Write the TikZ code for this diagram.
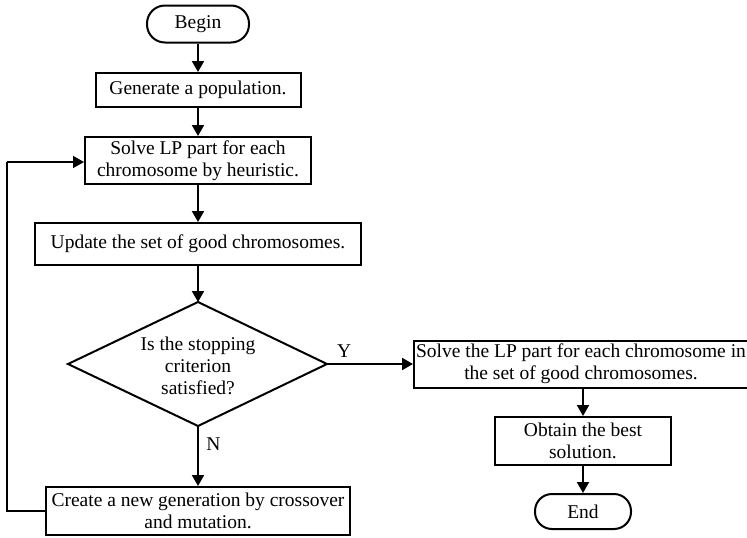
\documentclass[tikz,border=0pt]{standalone}
\usepackage{fontspec}
\setmainfont{Liberation Serif}
\usetikzlibrary{arrows.meta,shapes.geometric}
\begin{document}
\begin{tikzpicture}[x=1pt,y=-1pt,
  every node/.style={font=\fontsize{19.5}{22.2}\selectfont},
  box/.style={draw,line width=2pt,rectangle,inner sep=0pt,align=center},
  arr/.style={line width=2pt,-{Triangle[length=11pt,width=12pt]}},
  ln/.style={line width=1.5pt}]
\useasboundingbox (0,0) rectangle (747,538);
\clip (0,0) rectangle (747,538);
\node[box,minimum width=102pt,minimum height=37pt,rounded corners=18pt] (begin) at (198,24) {Begin};
\node[box,minimum width=205pt,minimum height=34pt] (gen) at (198,90) {Generate a population.};
\node[box,minimum width=226pt,minimum height=47pt] (solve) at (198,160.5) {Solve LP part for each\\chromosome by heuristic.};
\node[box,minimum width=326pt,minimum height=42pt] (upd) at (198,244) {Update the set of good chromosomes.};
\coordinate (dt) at (198,302);
\coordinate (dl) at (68,364);
\coordinate (dr) at (327,364);
\coordinate (db) at (198,426);
\draw[line width=2pt] (dt) -- (dr) -- (db) -- (dl) -- cycle;
\node[align=center] (dtext) at (198,366) {Is the stopping\\criterion\\satisfied?};
\node[box,minimum width=304pt,minimum height=48pt] (create) at (198,511) {Create a new generation by crossover\\and mutation.};
\node[box,minimum width=342pt,minimum height=47pt,anchor=west] (solve2) at (413,364) {};
\node[align=center] (solve2t) at (581,364) {Solve the LP part for each chromosome in\\the set of good chromosomes.};
\node[box,minimum width=176pt,minimum height=48pt] (obt) at (583,441) {Obtain the best\\solution.};
\node[box,minimum width=96pt,minimum height=35pt,rounded corners=17pt] (end) at (583,511.5) {End};
\draw[arr] (begin) -- (gen);
\draw[arr] (gen) -- (solve);
\draw[arr] (solve) -- (upd);
\draw[arr] (upd) -- (dt);
\draw[arr] (db) -- (create) node[pos=0.3,right=4pt] (nlab) {N};
\draw[arr] (dr) -- (dr -| solve2.west) node[pos=0.2,above=2pt] (ylab) {Y};
\draw[arr] (obt.north |- solve2.south) -- (obt);
\draw[arr] (obt) -- (end);
\coordinate (lb) at (7,511);
\coordinate (lt) at (7,162);
\draw[ln] (create.west) -- (lb) -- (lt);
\draw[arr,line width=1.5pt] (lt) -- (solve.west |- lt);
\end{tikzpicture}
\end{document}
